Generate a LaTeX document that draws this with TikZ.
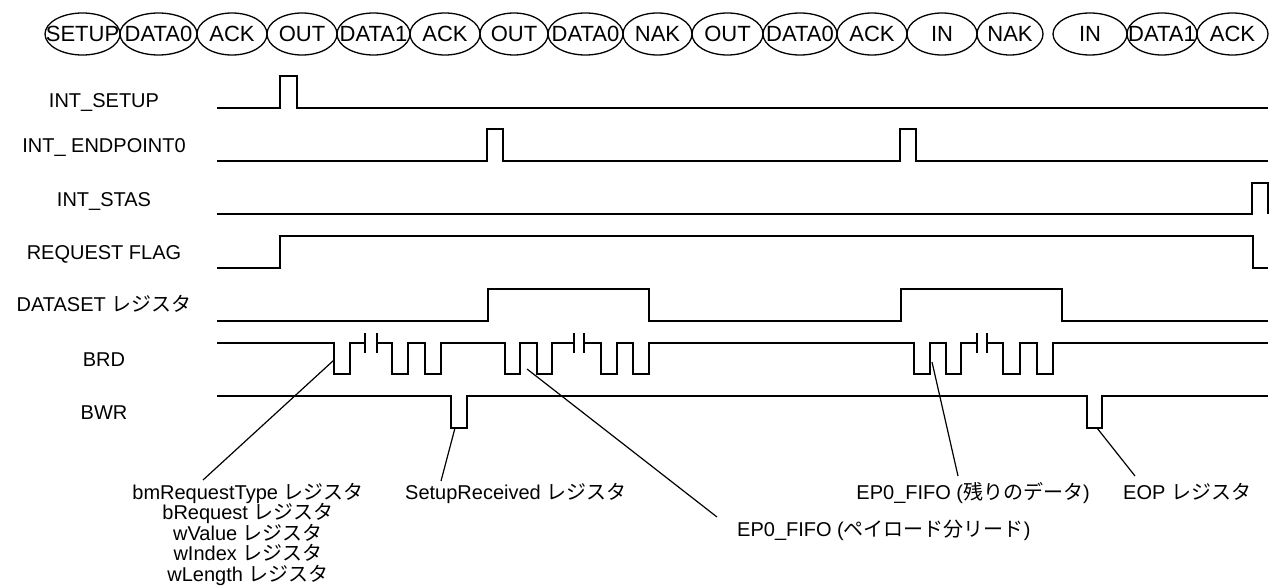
\documentclass[tikz,border=0pt]{standalone}
\usepackage{fontspec}
\setmainfont{Liberation Sans}
\newfontfamily\jp{Noto Sans CJK JP}
\usetikzlibrary{shapes.geometric}
\begin{document}
\begin{tikzpicture}[x=1pt,y=-1pt,
  sig/.style={line width=2pt, line join=miter},
  lead/.style={line width=1.2pt},
  pkt/.style={draw, ellipse, line width=1.3pt, minimum height=42pt, inner sep=0pt},
  pkttext/.style={font=\fontsize{22}{22}\selectfont, inner sep=0pt},
  lab/.style={font=\fontsize{20}{20}\selectfont, inner sep=0pt, anchor=base},
]
\useasboundingbox (0,0) rectangle (1273,586);

% packet row
\foreach \x/\w/\t/\n in {82.5/75/SETUP/p1, 158.5/77/DATA0/p2, 232/70/ACK/p3, 302/70/OUT/p4,
  373.5/73/DATA1/p5, 445/70/ACK/p6, 514/68/OUT/p7, 585.5/75/DATA0/p8, 657.5/69/NAK/p9,
  727.5/71/OUT/p10, 800/74/DATA0/p11, 872/70/ACK/p12, 942/70/IN/p13, 1010/66/NAK/p14,
  1090/74/IN/p15, 1162/70/DATA1/p16, 1232.5/71/ACK/p17}
  \node[pkt, minimum width=\w pt, label={[pkttext]center:\t}] (\n) at (\x,34) {};

% signal names
\node[lab] (lsetup) at (104,107.5) {INT\_SETUP};
\node[lab] (lep0)   at (104,152.5) {INT\_ ENDPOINT0};
\node[lab] (lstas)  at (104,206.5) {INT\_STAS};
\node[lab] (lreq)   at (104,259.5) {REQUEST FLAG};
\node[lab] (ldset)  at (104,311)   {DATASET {\jp レジスタ}};
\node[lab] (lbrd)   at (104,366)   {BRD};
\node[lab] (lbwr)   at (104,419)   {BWR};

% waveforms
\draw[sig] (217,108) -- (280,108) -- (280,76) -- (297,76) -- (297,108) -- (1268,108);
\draw[sig] (217,161) -- (487,161) -- (487,129) -- (503,129) -- (503,161) -- (900,161)
  -- (900,129) -- (916,129) -- (916,161) -- (1268,161);
\draw[sig] (217,214) -- (1252,214) -- (1252,183) -- (1268,183) -- (1268,214);
\draw[sig] (217,268) -- (280,268) -- (280,236) -- (1253,236) -- (1253,268) -- (1268,268);
\draw[sig] (217,321) -- (488,321) -- (488,289) -- (649,289) -- (649,321) -- (901,321)
  -- (901,289) -- (1062,289) -- (1062,321) -- (1268,321);
% BRD
\draw[sig] (217,343) -- (334,343) -- (334,374) -- (350,374) -- (350,343) -- (365,343);
\draw[sig] (365,333) -- (365,353) (377,333) -- (377,353);
\draw[sig] (377,343) -- (392,343) -- (392,374) -- (408,374) -- (408,343) -- (425,343)
  -- (425,374) -- (441,374) -- (441,343) -- (505,343) -- (505,374) -- (520,374)
  -- (520,343) -- (537,343) -- (537,374) -- (552,374) -- (552,343) -- (574,343);
\draw[sig] (574,333) -- (574,353) (584,333) -- (584,353);
\draw[sig] (584,343) -- (601,343) -- (601,374) -- (617,374) -- (617,343) -- (633,343)
  -- (633,374) -- (649,374) -- (649,343) -- (914,343) -- (914,374) -- (930,374)
  -- (930,343) -- (946,343) -- (946,374) -- (961,374) -- (961,343) -- (977,343);
\draw[sig] (977,333) -- (977,353) (987,333) -- (987,353);
\draw[sig] (987,343) -- (1003,343) -- (1003,374) -- (1020,374) -- (1020,343) -- (1037,343)
  -- (1037,374) -- (1053,374) -- (1053,343) -- (1268,343);
% BWR
\draw[sig] (217,396) -- (451,396) -- (451,428) -- (467,428) -- (467,396) -- (1087,396)
  -- (1087,428) -- (1102,428) -- (1102,396) -- (1268,396);

% annotation texts
\node[lab] (r1) at (248,499)   {bmRequestType {\jp レジスタ}};
\node[lab] (r2) at (248,519.5) {bRequest {\jp レジスタ}};
\node[lab] (r3) at (248,540)   {wValue {\jp レジスタ}};
\node[lab] (r4) at (248,560.5) {wIndex {\jp レジスタ}};
\node[lab] (r5) at (248,581)   {wLength {\jp レジスタ}};
\node[lab, anchor=base west] (sr) at (405,499) {SetupReceived {\jp レジスタ}};
\node[lab, anchor=base west] (fifo1) at (737,536) {EP0\_FIFO ({\jp ペイロード分リード})};
\node[lab, anchor=base east] (fifo2) at (1090,499) {EP0\_FIFO ({\jp 残りのデータ})};
\node[lab, anchor=base west] (eop) at (1123,499) {EOP {\jp レジスタ}};

% leader lines
\coordinate (s1) at (334,360);  \coordinate (e1) at (203,480);
\coordinate (s2) at (455,428);  \coordinate (e2) at (441,481);
\coordinate (s3) at (527,369);  \coordinate (e3) at (717,517);
\coordinate (s4) at (932,362);  \coordinate (e4) at (958,476);
\coordinate (s5) at (1097,428); \coordinate (e5) at (1135,476);
\draw[lead] (s1) -- (e1);
\draw[lead] (s2) -- (e2);
\draw[lead] (s3) -- (e3);
\draw[lead] (s4) -- (e4);
\draw[lead] (s5) -- (e5);
\end{tikzpicture}
\end{document}
